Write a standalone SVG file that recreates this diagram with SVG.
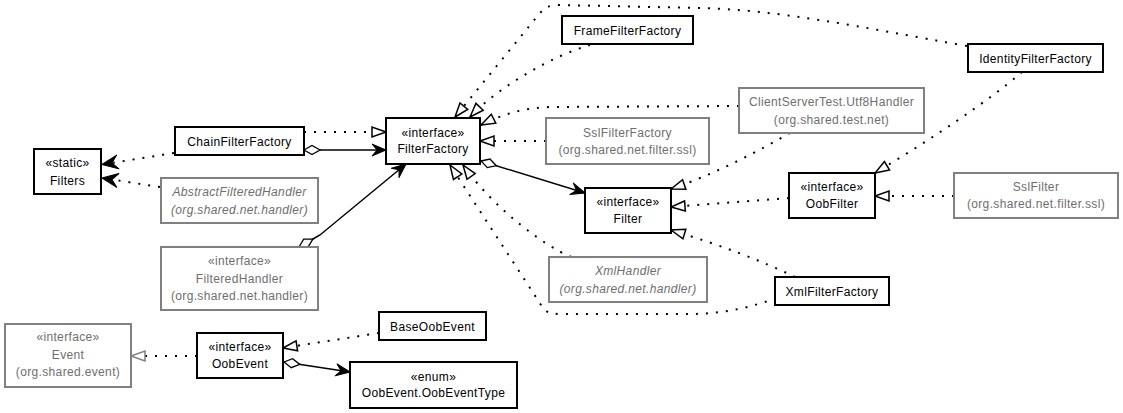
<svg xmlns="http://www.w3.org/2000/svg" width="1123" height="413" viewBox="0 0 1123 413">
<style>
  .box{fill:#fff;stroke:#000;stroke-width:2}
  .gbox{fill:#fff;stroke:#808080;stroke-width:2}
  text{font-family:"Liberation Sans",Arial,sans-serif;font-size:12px;letter-spacing:0.35px;text-anchor:middle;fill:#000}
  .g{fill:#6e6e6e}
  .i{font-style:italic}
  .dot{fill:none;stroke:#000;stroke-width:2;stroke-dasharray:2 8}
  .gdot{fill:none;stroke:#000;stroke-width:2;stroke-dasharray:2 8}
  .solid{fill:none;stroke:#000;stroke-width:1.5}
  .tri{fill:#fff;stroke:#000;stroke-width:1.5;stroke-dasharray:none}
  .gtri{fill:#fff;stroke:#808080;stroke-width:1.5;stroke-dasharray:none}
  .dart{fill:#000;stroke:#000;stroke-width:1;stroke-linejoin:round;stroke-dasharray:none}
  .dia{fill:#fff;stroke:#000;stroke-width:1.3;stroke-dasharray:none}
</style>
<defs>
  <marker id="tri" markerUnits="userSpaceOnUse" orient="auto" refX="0" refY="0" markerWidth="20" markerHeight="20" overflow="visible">
    <path class="tri" d="M0,0 L-14,-5 L-14,5 Z"/>
  </marker>
  <marker id="gtri" markerUnits="userSpaceOnUse" orient="auto" refX="0" refY="0" markerWidth="20" markerHeight="20" overflow="visible">
    <path class="gtri" d="M0,0 L-14,-5 L-14,5 Z"/>
  </marker>
  <marker id="dart" markerUnits="userSpaceOnUse" orient="auto" refX="0" refY="0" markerWidth="20" markerHeight="20" overflow="visible">
    <path class="dart" d="M0,0 L-14,-6 L-9,0 L-14,6 Z"/>
  </marker>
  <marker id="bigdart" markerUnits="userSpaceOnUse" orient="auto" refX="0" refY="0" markerWidth="20" markerHeight="20" overflow="visible">
    <path class="dart" d="M0,0 L-16,-7 L-10,0 L-16,7 Z"/>
  </marker>
  <marker id="dia" markerUnits="userSpaceOnUse" orient="auto" refX="0" refY="0" markerWidth="20" markerHeight="20" overflow="visible">
    <path class="dia" d="M0,0 L8,-4.5 L16,0 L8,4.5 Z"/>
  </marker>
</defs>
<rect width="1123" height="413" fill="#fff"/>

<g id="connectors">
  <!-- dependencies to Filters -->
  <path class="dot" d="M174,153 L102,164.5" marker-end="url(#bigdart)"/>
  <path class="dot" d="M160,187 L102,178" marker-end="url(#bigdart)"/>
  <!-- realizations into FilterFactory -->
  <path class="dot" d="M304,132 L386,132" marker-end="url(#tri)"/>
  <path class="dot" d="M967,46 C860,27 780,10 700,8 L560,5 C548,5 545,8 540,13 L455,117" marker-end="url(#tri)"/>
  <path class="dot" d="M590,45 C555,55 500,85 470,117" marker-end="url(#tri)"/>
  <path class="dot" d="M739,106 L550,107 C525,108 505,113 481,125" marker-end="url(#tri)"/>
  <path class="dot" d="M546,141 L480,141" marker-end="url(#tri)"/>
  <path class="dot" d="M571,257 C545,246 495,210 463,165" marker-end="url(#tri)"/>
  <path class="dot" d="M776,298 C750,308 720,314 690,314 L560,314 C550,314 546,312 543,308 L450,165" marker-end="url(#tri)"/>
  <!-- aggregations -->
  <path class="solid" d="M304,150 L386,150" marker-start="url(#dia)" marker-end="url(#dart)"/>
  <path class="solid" d="M299,247 L313,239 L320,235 L406,164" marker-start="url(#dia)" marker-end="url(#dart)"/>
  <path class="solid" d="M481,161 L585,193" marker-start="url(#dia)" marker-end="url(#dart)"/>
  <!-- realizations into Filter -->
  <path class="dot" d="M790,133 C760,150 720,172 671,189" marker-end="url(#tri)"/>
  <path class="dot" d="M789,198 L671,207" marker-end="url(#tri)"/>
  <path class="dot" d="M795,277 C760,260 720,245 671,230" marker-end="url(#tri)"/>
  <!-- realizations into OobFilter -->
  <path class="dot" d="M1022,72 C990,100 930,140 875,173" marker-end="url(#tri)"/>
  <path class="dot" d="M954,196 L875,196" marker-end="url(#tri)"/>
  <!-- OobEvent -->
  <path class="dot" d="M379,333 L283,348" marker-end="url(#tri)"/>
  <path class="solid" d="M284,362 L350,372" marker-start="url(#dia)" marker-end="url(#dart)"/>
  <path class="gdot" d="M197,356 L131,356" marker-end="url(#gtri)"/>
</g>

<g id="Filters">
  <rect class="box" x="34" y="149" width="67" height="45"/>
  <text x="67.5" y="167">«static»</text>
  <text x="67.5" y="184.5">Filters</text>
</g>
<g id="ChainFilterFactory">
  <rect class="box" x="175" y="127" width="129" height="28"/>
  <text x="239.5" y="145.5">ChainFilterFactory</text>
</g>
<g id="AbstractFilteredHandler">
  <rect class="gbox" x="161" y="178" width="157" height="45"/>
  <text class="g i" x="239.5" y="196">AbstractFilteredHandler</text>
  <text class="g i" x="239.5" y="213.5">(org.shared.net.handler)</text>
</g>
<g id="FilteredHandler">
  <rect class="gbox" x="161" y="247" width="157" height="63"/>
  <text class="g" x="239.5" y="265">«interface»</text>
  <text class="g" x="239.5" y="282.5">FilteredHandler</text>
  <text class="g" x="239.5" y="299.5">(org.shared.net.handler)</text>
</g>
<g id="Event">
  <rect class="gbox" x="5" y="324" width="126" height="63"/>
  <text class="g" x="68" y="341">«interface»</text>
  <text class="g" x="68" y="358.5">Event</text>
  <text class="g" x="68" y="375.5">(org.shared.event)</text>
</g>
<g id="OobEvent">
  <rect class="box" x="197" y="333" width="86" height="45"/>
  <text x="240" y="350.5">«interface»</text>
  <text x="240" y="368">OobEvent</text>
</g>
<g id="BaseOobEvent">
  <rect class="box" x="379" y="312" width="107" height="28"/>
  <text x="432.5" y="330.5">BaseOobEvent</text>
</g>
<g id="OobEventType">
  <rect class="box" x="350" y="362" width="167" height="46"/>
  <text x="433.5" y="381">«enum»</text>
  <text x="433.5" y="396.5">OobEvent.OobEventType</text>
</g>
<g id="FilterFactory">
  <rect class="box" x="386" y="118" width="94" height="46"/>
  <text x="433" y="136.5">«interface»</text>
  <text x="433" y="153">FilterFactory</text>
</g>
<g id="FrameFilterFactory">
  <rect class="box" x="562" y="16" width="131" height="28"/>
  <text x="627.5" y="34.5">FrameFilterFactory</text>
</g>
<g id="SslFilterFactory">
  <rect class="gbox" x="546" y="118" width="163" height="46"/>
  <text class="g" x="627.5" y="136.5">SslFilterFactory</text>
  <text class="g" x="627.5" y="153.5">(org.shared.net.filter.ssl)</text>
</g>
<g id="Utf8Handler">
  <rect class="gbox" x="739" y="88" width="185" height="45"/>
  <text class="g" x="831.5" y="106">ClientServerTest.Utf8Handler</text>
  <text class="g" x="831.5" y="123.5">(org.shared.test.net)</text>
</g>
<g id="IdentityFilterFactory">
  <rect class="box" x="968" y="44" width="135" height="28"/>
  <text x="1035.5" y="62.5">IdentityFilterFactory</text>
</g>
<g id="OobFilter">
  <rect class="box" x="789" y="173" width="86" height="45"/>
  <text x="832" y="190.5">«interface»</text>
  <text x="832" y="208">OobFilter</text>
</g>
<g id="SslFilter">
  <rect class="gbox" x="954" y="173" width="164" height="45"/>
  <text class="g" x="1036" y="190.5">SslFilter</text>
  <text class="g" x="1036" y="208">(org.shared.net.filter.ssl)</text>
</g>
<g id="Filter">
  <rect class="box" x="585" y="188" width="86" height="45"/>
  <text x="628" y="205.5">«interface»</text>
  <text x="628" y="223">Filter</text>
</g>
<g id="XmlHandler">
  <rect class="gbox" x="549" y="257" width="158" height="45"/>
  <text class="g i" x="628" y="275">XmlHandler</text>
  <text class="g i" x="628" y="292.5">(org.shared.net.handler)</text>
</g>
<g id="XmlFilterFactory">
  <rect class="box" x="775" y="277" width="114" height="28"/>
  <text x="832" y="295.5">XmlFilterFactory</text>
</g>
</svg>
